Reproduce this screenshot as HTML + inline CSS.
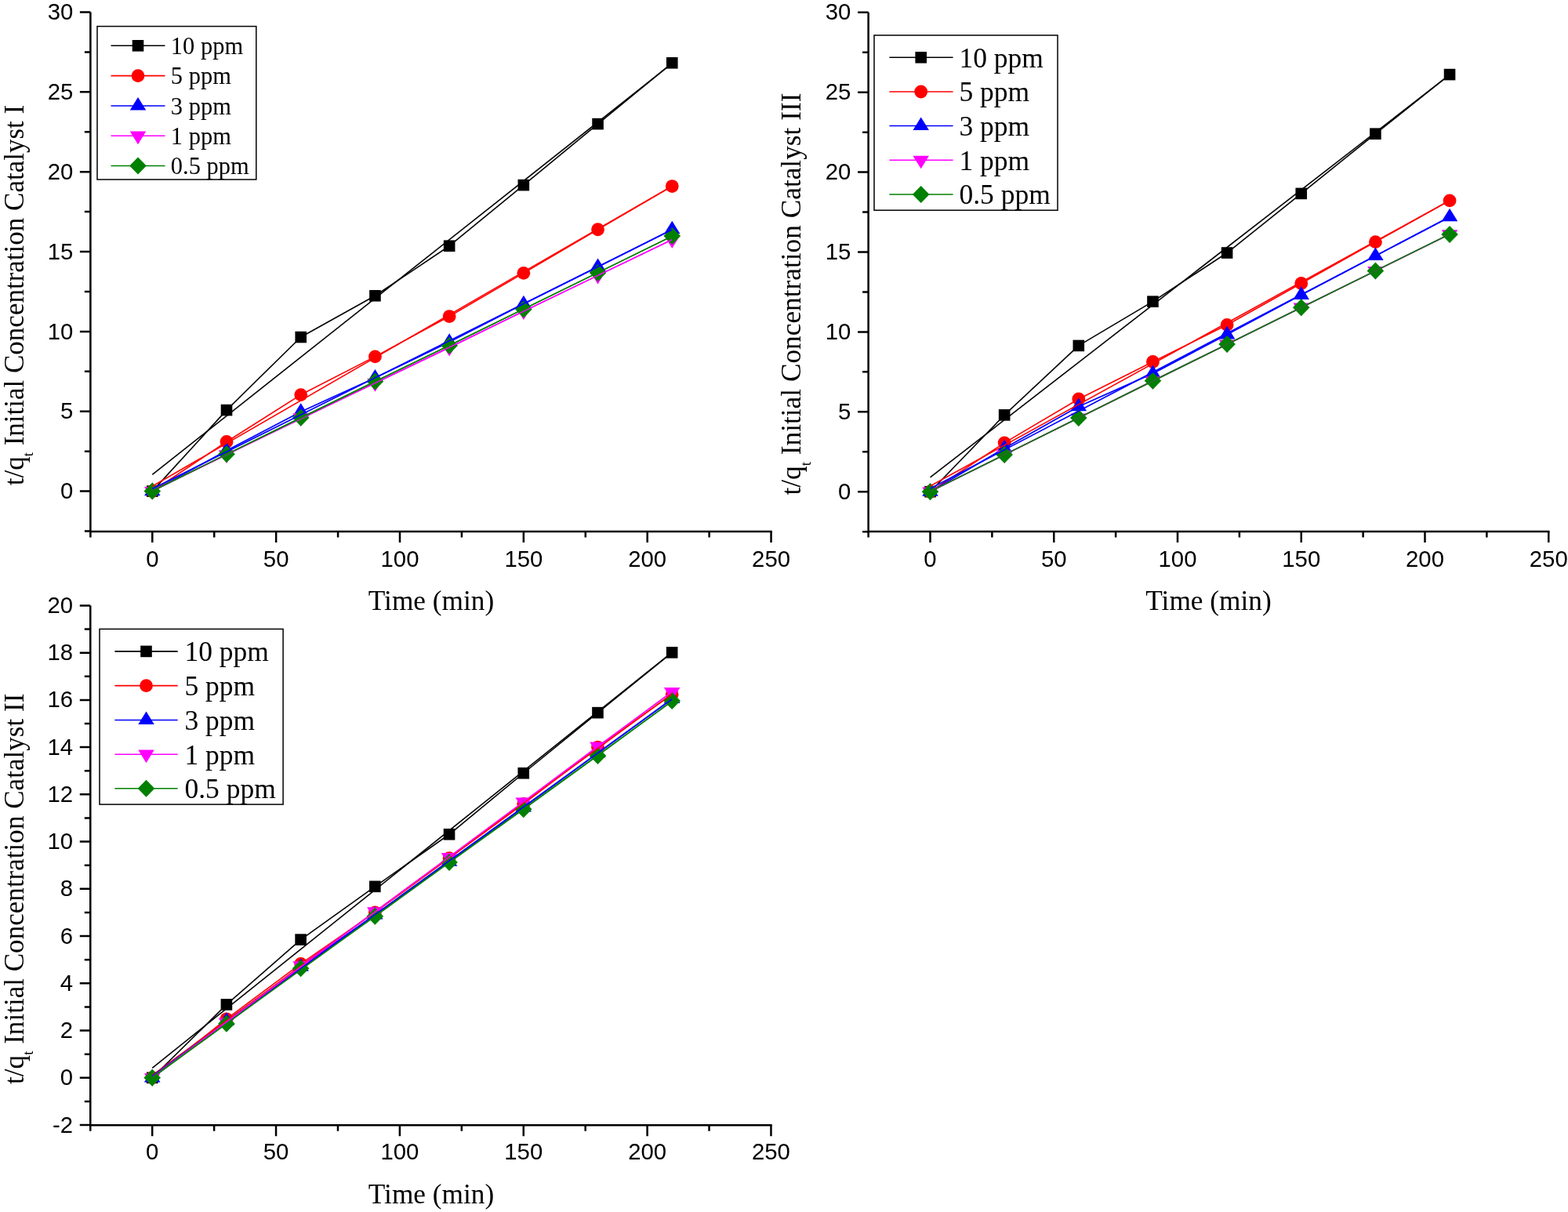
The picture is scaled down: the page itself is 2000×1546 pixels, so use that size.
<!DOCTYPE html>
<html><head><meta charset="utf-8"><title>t/qt Initial Concentration Catalyst plots</title>
<style>
html,body{margin:0;padding:0;background:#fff;}
body{width:2000px;height:1546px;overflow:hidden;}
svg{display:block;filter:blur(0.3px);}
.tk{font-family:'Liberation Sans', Arial, sans-serif;font-size:29.3px;fill:#000;}
.ti{font-family:'Liberation Serif', 'Times New Roman', serif;font-size:35.3px;fill:#000;}
.lg{font-family:'Liberation Serif', 'Times New Roman', serif;fill:#000;}
.sub{font-size:19px;}
</style></head><body>
<svg width="2000" height="1546" viewBox="0 0 2000 1546">
<rect width="2000" height="1546" fill="#fff"/>
<path d="M115.38,15.50 V678.10 M114.13,678.10 H984.80" stroke="#000" stroke-width="2.5" fill="none"/>
<path d="M107.88,677.52 H115.38 M101.88,626.60 H115.38 M107.88,575.68 H115.38 M101.88,524.75 H115.38 M107.88,473.83 H115.38 M101.88,422.90 H115.38 M107.88,371.98 H115.38 M101.88,321.05 H115.38 M107.88,270.12 H115.38 M101.88,219.20 H115.38 M107.88,168.27 H115.38 M101.88,117.35 H115.38 M107.88,66.42 H115.38 M101.88,15.50 H115.38 M115.38,678.10 V685.60 M194.30,678.10 V692.10 M273.23,678.10 V685.60 M352.15,678.10 V692.10 M431.08,678.10 V685.60 M510.00,678.10 V692.10 M588.92,678.10 V685.60 M667.85,678.10 V692.10 M746.78,678.10 V685.60 M825.70,678.10 V692.10 M904.62,678.10 V685.60 M983.55,678.10 V692.10" stroke="#000" stroke-width="2.5" fill="none"/>
<text transform="translate(93.30,636.21)" text-anchor="end" class="tk">0</text>
<text transform="translate(93.30,534.36)" text-anchor="end" class="tk">5</text>
<text transform="translate(93.30,432.51)" text-anchor="end" class="tk">10</text>
<text transform="translate(93.30,330.66)" text-anchor="end" class="tk">15</text>
<text transform="translate(93.30,228.81)" text-anchor="end" class="tk">20</text>
<text transform="translate(93.30,126.96)" text-anchor="end" class="tk">25</text>
<text transform="translate(93.30,25.11)" text-anchor="end" class="tk">30</text>
<text transform="translate(194.30,722.71)" text-anchor="middle" class="tk">0</text>
<text transform="translate(352.15,722.71)" text-anchor="middle" class="tk">50</text>
<text transform="translate(510.00,722.71)" text-anchor="middle" class="tk">100</text>
<text transform="translate(667.85,722.71)" text-anchor="middle" class="tk">150</text>
<text transform="translate(825.70,722.71)" text-anchor="middle" class="tk">200</text>
<text transform="translate(983.55,722.71)" text-anchor="middle" class="tk">250</text>
<polyline points="194.30,626.60 289.01,523.12 383.72,430.03 478.43,377.27 573.14,313.72 667.85,236.11 762.56,158.09 857.27,80.28" stroke="#000000" stroke-width="1.6" fill="none" stroke-linejoin="round"/>
<rect x="187.00" y="619.30" width="14.60" height="14.60" fill="#000000"/>
<rect x="281.71" y="515.82" width="14.60" height="14.60" fill="#000000"/>
<rect x="376.42" y="422.73" width="14.60" height="14.60" fill="#000000"/>
<rect x="471.13" y="369.97" width="14.60" height="14.60" fill="#000000"/>
<rect x="565.84" y="306.42" width="14.60" height="14.60" fill="#000000"/>
<rect x="660.55" y="228.81" width="14.60" height="14.60" fill="#000000"/>
<rect x="755.26" y="150.79" width="14.60" height="14.60" fill="#000000"/>
<rect x="849.97" y="72.98" width="14.60" height="14.60" fill="#000000"/>
<polyline points="194.30,626.60 289.01,563.45 383.72,503.57 478.43,454.88 573.14,403.55 667.85,348.35 762.56,292.74 857.27,237.53" stroke="#FF0000" stroke-width="1.6" fill="none" stroke-linejoin="round"/>
<circle cx="194.30" cy="626.60" r="8.4" fill="#FF0000"/>
<circle cx="289.01" cy="563.45" r="8.4" fill="#FF0000"/>
<circle cx="383.72" cy="503.57" r="8.4" fill="#FF0000"/>
<circle cx="478.43" cy="454.88" r="8.4" fill="#FF0000"/>
<circle cx="573.14" cy="403.55" r="8.4" fill="#FF0000"/>
<circle cx="667.85" cy="348.35" r="8.4" fill="#FF0000"/>
<circle cx="762.56" cy="292.74" r="8.4" fill="#FF0000"/>
<circle cx="857.27" cy="237.53" r="8.4" fill="#FF0000"/>
<polyline points="194.30,626.60 289.01,574.66 383.72,525.16 478.43,481.97 573.14,436.34 667.85,387.86 762.56,340.40 857.27,292.74" stroke="#0000FF" stroke-width="1.7" fill="none" stroke-linejoin="round"/>
<polygon points="194.30,615.60 204.55,632.20 184.05,632.20" fill="#0000FF"/>
<polygon points="289.01,563.66 299.26,580.26 278.76,580.26" fill="#0000FF"/>
<polygon points="383.72,514.16 393.97,530.76 373.47,530.76" fill="#0000FF"/>
<polygon points="478.43,470.97 488.68,487.57 468.18,487.57" fill="#0000FF"/>
<polygon points="573.14,425.34 583.39,441.94 562.89,441.94" fill="#0000FF"/>
<polygon points="667.85,376.86 678.10,393.46 657.60,393.46" fill="#0000FF"/>
<polygon points="762.56,329.40 772.81,346.00 752.31,346.00" fill="#0000FF"/>
<polygon points="857.27,281.74 867.52,298.34 847.02,298.34" fill="#0000FF"/>
<polyline points="194.30,626.60 289.01,579.95 383.72,532.90 478.43,488.70 573.14,443.47 667.85,397.03 762.56,351.40 857.27,305.77" stroke="#FF00FF" stroke-width="1.5" fill="none" stroke-linejoin="round"/>
<polygon points="194.30,637.60 204.55,621.00 184.05,621.00" fill="#FF00FF"/>
<polygon points="289.01,590.95 299.26,574.35 278.76,574.35" fill="#FF00FF"/>
<polygon points="383.72,543.90 393.97,527.30 373.47,527.30" fill="#FF00FF"/>
<polygon points="478.43,499.70 488.68,483.10 468.18,483.10" fill="#FF00FF"/>
<polygon points="573.14,454.47 583.39,437.87 562.89,437.87" fill="#FF00FF"/>
<polygon points="667.85,408.03 678.10,391.43 657.60,391.43" fill="#FF00FF"/>
<polygon points="762.56,362.40 772.81,345.80 752.31,345.80" fill="#FF00FF"/>
<polygon points="857.27,316.77 867.52,300.17 847.02,300.17" fill="#FF00FF"/>
<polyline points="194.30,626.60 289.01,579.34 383.72,532.69 478.43,486.45 573.14,440.83 667.85,394.38 762.56,347.94 857.27,301.09" stroke="#008000" stroke-width="1.5" fill="none" stroke-linejoin="round"/>
<polygon points="194.30,615.60 205.10,626.60 194.30,637.60 183.50,626.60" fill="#008000"/>
<polygon points="289.01,568.34 299.81,579.34 289.01,590.34 278.21,579.34" fill="#008000"/>
<polygon points="383.72,521.69 394.52,532.69 383.72,543.69 372.92,532.69" fill="#008000"/>
<polygon points="478.43,475.45 489.23,486.45 478.43,497.45 467.63,486.45" fill="#008000"/>
<polygon points="573.14,429.83 583.94,440.83 573.14,451.83 562.34,440.83" fill="#008000"/>
<polygon points="667.85,383.38 678.65,394.38 667.85,405.38 657.05,394.38" fill="#008000"/>
<polygon points="762.56,336.94 773.36,347.94 762.56,358.94 751.76,347.94" fill="#008000"/>
<polygon points="857.27,290.09 868.07,301.09 857.27,312.09 846.47,301.09" fill="#008000"/>
<line x1="194.30" y1="605.43" x2="857.27" y2="80.87" stroke="#000000" stroke-width="1.6"/>
<line x1="194.30" y1="620.25" x2="857.27" y2="237.41" stroke="#FF0000" stroke-width="1.6"/>
<line x1="194.30" y1="623.46" x2="857.27" y2="292.97" stroke="#0000FF" stroke-width="1.7"/>
<line x1="194.30" y1="625.79" x2="857.27" y2="305.67" stroke="#FF00FF" stroke-width="1.5"/>
<line x1="194.30" y1="626.01" x2="857.27" y2="301.33" stroke="#008000" stroke-width="1.5"/>
<rect x="124.00" y="33.60" width="202.80" height="195.40" fill="#fff" stroke="#000" stroke-width="1.5"/>
<line x1="141.50" y1="58.30" x2="210.50" y2="58.30" stroke="#000000" stroke-width="1.6"/>
<rect x="168.70" y="51.00" width="14.60" height="14.60" fill="#000000"/>
<text transform="translate(217.80,68.97) scale(1,1.02)" style="font-size:30.5px" class="lg">10 ppm</text>
<line x1="141.50" y1="96.60" x2="210.50" y2="96.60" stroke="#FF0000" stroke-width="1.6"/>
<circle cx="176.00" cy="96.60" r="8.4" fill="#FF0000"/>
<text transform="translate(217.80,107.27) scale(1,1.02)" style="font-size:30.5px" class="lg">5 ppm</text>
<line x1="141.50" y1="135.00" x2="210.50" y2="135.00" stroke="#0000FF" stroke-width="1.7"/>
<polygon points="176.00,124.00 186.25,140.60 165.75,140.60" fill="#0000FF"/>
<text transform="translate(217.80,145.67) scale(1,1.02)" style="font-size:30.5px" class="lg">3 ppm</text>
<line x1="141.50" y1="173.20" x2="210.50" y2="173.20" stroke="#FF00FF" stroke-width="1.5"/>
<polygon points="176.00,184.20 186.25,167.60 165.75,167.60" fill="#FF00FF"/>
<text transform="translate(217.80,183.87) scale(1,1.02)" style="font-size:30.5px" class="lg">1 ppm</text>
<line x1="141.50" y1="211.50" x2="210.50" y2="211.50" stroke="#008000" stroke-width="1.5"/>
<polygon points="176.00,200.50 186.80,211.50 176.00,222.50 165.20,211.50" fill="#008000"/>
<text transform="translate(217.80,222.17) scale(1,1.02)" style="font-size:30.5px" class="lg">0.5 ppm</text>
<text x="550" y="778.4" text-anchor="middle" class="ti">Time (min)</text>
<text transform="translate(29.70,619.30) rotate(-90)" class="ti" style="font-size:35.0px">t/q<tspan class="sub" dy="12.5">t</tspan><tspan dy="-12.5"> Initial Concentration Catalyst I</tspan></text>
<path d="M1107.62,15.80 V678.10 M1106.38,678.10 H1976.50" stroke="#000" stroke-width="2.5" fill="none"/>
<path d="M1100.12,678.15 H1107.62 M1094.12,627.20 H1107.62 M1100.12,576.25 H1107.62 M1094.12,525.30 H1107.62 M1100.12,474.35 H1107.62 M1094.12,423.40 H1107.62 M1100.12,372.45 H1107.62 M1094.12,321.50 H1107.62 M1100.12,270.55 H1107.62 M1094.12,219.60 H1107.62 M1100.12,168.65 H1107.62 M1094.12,117.70 H1107.62 M1100.12,66.75 H1107.62 M1094.12,15.80 H1107.62 M1107.62,678.10 V685.60 M1186.50,678.10 V692.10 M1265.38,678.10 V685.60 M1344.25,678.10 V692.10 M1423.12,678.10 V685.60 M1502.00,678.10 V692.10 M1580.88,678.10 V685.60 M1659.75,678.10 V692.10 M1738.62,678.10 V685.60 M1817.50,678.10 V692.10 M1896.38,678.10 V685.60 M1975.25,678.10 V692.10" stroke="#000" stroke-width="2.5" fill="none"/>
<text transform="translate(1085.30,636.81)" text-anchor="end" class="tk">0</text>
<text transform="translate(1085.30,534.91)" text-anchor="end" class="tk">5</text>
<text transform="translate(1085.30,433.01)" text-anchor="end" class="tk">10</text>
<text transform="translate(1085.30,331.11)" text-anchor="end" class="tk">15</text>
<text transform="translate(1085.30,229.21)" text-anchor="end" class="tk">20</text>
<text transform="translate(1085.30,127.31)" text-anchor="end" class="tk">25</text>
<text transform="translate(1085.30,25.41)" text-anchor="end" class="tk">30</text>
<text transform="translate(1186.50,722.71)" text-anchor="middle" class="tk">0</text>
<text transform="translate(1344.25,722.71)" text-anchor="middle" class="tk">50</text>
<text transform="translate(1502.00,722.71)" text-anchor="middle" class="tk">100</text>
<text transform="translate(1659.75,722.71)" text-anchor="middle" class="tk">150</text>
<text transform="translate(1817.50,722.71)" text-anchor="middle" class="tk">200</text>
<text transform="translate(1975.25,722.71)" text-anchor="middle" class="tk">250</text>
<polyline points="1186.50,627.20 1281.15,529.38 1375.80,440.93 1470.45,384.68 1565.10,322.52 1659.75,246.91 1754.40,170.69 1849.05,95.08" stroke="#000000" stroke-width="1.6" fill="none" stroke-linejoin="round"/>
<rect x="1179.20" y="619.90" width="14.60" height="14.60" fill="#000000"/>
<rect x="1273.85" y="522.08" width="14.60" height="14.60" fill="#000000"/>
<rect x="1368.50" y="433.63" width="14.60" height="14.60" fill="#000000"/>
<rect x="1463.15" y="377.38" width="14.60" height="14.60" fill="#000000"/>
<rect x="1557.80" y="315.22" width="14.60" height="14.60" fill="#000000"/>
<rect x="1652.45" y="239.61" width="14.60" height="14.60" fill="#000000"/>
<rect x="1747.10" y="163.39" width="14.60" height="14.60" fill="#000000"/>
<rect x="1841.75" y="87.78" width="14.60" height="14.60" fill="#000000"/>
<polyline points="1186.50,627.20 1281.15,564.84 1375.80,509.00 1470.45,461.51 1565.10,414.43 1659.75,361.44 1754.40,308.66 1849.05,255.88" stroke="#FF0000" stroke-width="1.6" fill="none" stroke-linejoin="round"/>
<circle cx="1186.50" cy="627.20" r="8.4" fill="#FF0000"/>
<circle cx="1281.15" cy="564.84" r="8.4" fill="#FF0000"/>
<circle cx="1375.80" cy="509.00" r="8.4" fill="#FF0000"/>
<circle cx="1470.45" cy="461.51" r="8.4" fill="#FF0000"/>
<circle cx="1565.10" cy="414.43" r="8.4" fill="#FF0000"/>
<circle cx="1659.75" cy="361.44" r="8.4" fill="#FF0000"/>
<circle cx="1754.40" cy="308.66" r="8.4" fill="#FF0000"/>
<circle cx="1849.05" cy="255.88" r="8.4" fill="#FF0000"/>
<polyline points="1186.50,627.20 1281.15,571.77 1375.80,518.57 1470.45,476.39 1565.10,426.86 1659.75,376.32 1754.40,326.39 1849.05,276.66" stroke="#0000FF" stroke-width="1.7" fill="none" stroke-linejoin="round"/>
<polygon points="1186.50,616.20 1196.75,632.80 1176.25,632.80" fill="#0000FF"/>
<polygon points="1281.15,560.77 1291.40,577.37 1270.90,577.37" fill="#0000FF"/>
<polygon points="1375.80,507.57 1386.05,524.17 1365.55,524.17" fill="#0000FF"/>
<polygon points="1470.45,465.39 1480.70,481.99 1460.20,481.99" fill="#0000FF"/>
<polygon points="1565.10,415.86 1575.35,432.46 1554.85,432.46" fill="#0000FF"/>
<polygon points="1659.75,365.32 1670.00,381.92 1649.50,381.92" fill="#0000FF"/>
<polygon points="1754.40,315.39 1764.65,331.99 1744.15,331.99" fill="#0000FF"/>
<polygon points="1849.05,265.66 1859.30,282.26 1838.80,282.26" fill="#0000FF"/>
<polyline points="1186.50,627.20 1281.15,580.12 1375.80,533.04 1470.45,485.76 1565.10,439.09 1659.75,392.22 1754.40,345.55 1849.05,298.88" stroke="#FF00FF" stroke-width="1.5" fill="none" stroke-linejoin="round"/>
<polygon points="1186.50,638.20 1196.75,621.60 1176.25,621.60" fill="#FF00FF"/>
<polygon points="1281.15,591.12 1291.40,574.52 1270.90,574.52" fill="#FF00FF"/>
<polygon points="1375.80,544.04 1386.05,527.44 1365.55,527.44" fill="#FF00FF"/>
<polygon points="1470.45,496.76 1480.70,480.16 1460.20,480.16" fill="#FF00FF"/>
<polygon points="1565.10,450.09 1575.35,433.49 1554.85,433.49" fill="#FF00FF"/>
<polygon points="1659.75,403.22 1670.00,386.62 1649.50,386.62" fill="#FF00FF"/>
<polygon points="1754.40,356.55 1764.65,339.95 1744.15,339.95" fill="#FF00FF"/>
<polygon points="1849.05,309.88 1859.30,293.28 1838.80,293.28" fill="#FF00FF"/>
<polyline points="1186.50,627.20 1281.15,580.12 1375.80,533.04 1470.45,485.76 1565.10,439.09 1659.75,392.22 1754.40,345.55 1849.05,298.88" stroke="#008000" stroke-width="1.5" fill="none" stroke-linejoin="round"/>
<polygon points="1186.50,616.20 1197.30,627.20 1186.50,638.20 1175.70,627.20" fill="#008000"/>
<polygon points="1281.15,569.12 1291.95,580.12 1281.15,591.12 1270.35,580.12" fill="#008000"/>
<polygon points="1375.80,522.04 1386.60,533.04 1375.80,544.04 1365.00,533.04" fill="#008000"/>
<polygon points="1470.45,474.76 1481.25,485.76 1470.45,496.76 1459.65,485.76" fill="#008000"/>
<polygon points="1565.10,428.09 1575.90,439.09 1565.10,450.09 1554.30,439.09" fill="#008000"/>
<polygon points="1659.75,381.22 1670.55,392.22 1659.75,403.22 1648.95,392.22" fill="#008000"/>
<polygon points="1754.40,334.55 1765.20,345.55 1754.40,356.55 1743.60,345.55" fill="#008000"/>
<polygon points="1849.05,287.88 1859.85,298.88 1849.05,309.88 1838.25,298.88" fill="#008000"/>
<line x1="1186.50" y1="608.94" x2="1849.05" y2="95.40" stroke="#000000" stroke-width="1.6"/>
<line x1="1186.50" y1="619.95" x2="1849.05" y2="255.79" stroke="#FF0000" stroke-width="1.6"/>
<line x1="1186.50" y1="623.23" x2="1849.05" y2="276.82" stroke="#0000FF" stroke-width="1.7"/>
<line x1="1186.50" y1="626.91" x2="1849.05" y2="298.56" stroke="#FF00FF" stroke-width="1.5"/>
<line x1="1186.50" y1="626.91" x2="1849.05" y2="298.56" stroke="#008000" stroke-width="1.5"/>
<rect x="1115.00" y="45.00" width="234.00" height="223.20" fill="#fff" stroke="#000" stroke-width="1.5"/>
<line x1="1134.40" y1="73.30" x2="1215.60" y2="73.30" stroke="#000000" stroke-width="1.6"/>
<rect x="1167.40" y="66.00" width="14.60" height="14.60" fill="#000000"/>
<text transform="translate(1223.50,85.67) scale(1,1.02)" style="font-size:35.5px" class="lg">10 ppm</text>
<line x1="1134.40" y1="117.00" x2="1215.60" y2="117.00" stroke="#FF0000" stroke-width="1.6"/>
<circle cx="1174.70" cy="117.00" r="8.4" fill="#FF0000"/>
<text transform="translate(1223.50,129.37) scale(1,1.02)" style="font-size:35.5px" class="lg">5 ppm</text>
<line x1="1134.40" y1="160.50" x2="1215.60" y2="160.50" stroke="#0000FF" stroke-width="1.7"/>
<polygon points="1174.70,149.50 1184.95,166.10 1164.45,166.10" fill="#0000FF"/>
<text transform="translate(1223.50,172.87) scale(1,1.02)" style="font-size:35.5px" class="lg">3 ppm</text>
<line x1="1134.40" y1="204.30" x2="1215.60" y2="204.30" stroke="#FF00FF" stroke-width="1.5"/>
<polygon points="1174.70,215.30 1184.95,198.70 1164.45,198.70" fill="#FF00FF"/>
<text transform="translate(1223.50,216.67) scale(1,1.02)" style="font-size:35.5px" class="lg">1 ppm</text>
<line x1="1134.40" y1="248.00" x2="1215.60" y2="248.00" stroke="#008000" stroke-width="1.5"/>
<polygon points="1174.70,237.00 1185.50,248.00 1174.70,259.00 1163.90,248.00" fill="#008000"/>
<text transform="translate(1223.50,260.37) scale(1,1.02)" style="font-size:35.5px" class="lg">0.5 ppm</text>
<text x="1541.5" y="778.4" text-anchor="middle" class="ti">Time (min)</text>
<text transform="translate(1021.30,631.60) rotate(-90)" class="ti" style="font-size:35.3px">t/q<tspan class="sub" dy="12.5">t</tspan><tspan dy="-12.5"> Initial Concentration Catalyst III</tspan></text>
<path d="M115.27,772.40 V1435.20 M114.02,1435.20 H984.70" stroke="#000" stroke-width="2.5" fill="none"/>
<path d="M101.77,1435.04 H115.27 M107.77,1404.92 H115.27 M101.77,1374.80 H115.27 M107.77,1344.68 H115.27 M101.77,1314.56 H115.27 M107.77,1284.44 H115.27 M101.77,1254.32 H115.27 M107.77,1224.20 H115.27 M101.77,1194.08 H115.27 M107.77,1163.96 H115.27 M101.77,1133.84 H115.27 M107.77,1103.72 H115.27 M101.77,1073.60 H115.27 M107.77,1043.48 H115.27 M101.77,1013.36 H115.27 M107.77,983.24 H115.27 M101.77,953.12 H115.27 M107.77,923.00 H115.27 M101.77,892.88 H115.27 M107.77,862.76 H115.27 M101.77,832.64 H115.27 M107.77,802.52 H115.27 M101.77,772.40 H115.27 M115.27,1435.20 V1442.70 M194.20,1435.20 V1449.20 M273.12,1435.20 V1442.70 M352.05,1435.20 V1449.20 M430.98,1435.20 V1442.70 M509.90,1435.20 V1449.20 M588.83,1435.20 V1442.70 M667.75,1435.20 V1449.20 M746.67,1435.20 V1442.70 M825.60,1435.20 V1449.20 M904.53,1435.20 V1442.70 M983.45,1435.20 V1449.20" stroke="#000" stroke-width="2.5" fill="none"/>
<text transform="translate(93.00,1444.65)" text-anchor="end" class="tk">-2</text>
<text transform="translate(93.00,1384.41)" text-anchor="end" class="tk">0</text>
<text transform="translate(93.00,1324.17)" text-anchor="end" class="tk">2</text>
<text transform="translate(93.00,1263.93)" text-anchor="end" class="tk">4</text>
<text transform="translate(93.00,1203.69)" text-anchor="end" class="tk">6</text>
<text transform="translate(93.00,1143.45)" text-anchor="end" class="tk">8</text>
<text transform="translate(93.00,1083.21)" text-anchor="end" class="tk">10</text>
<text transform="translate(93.00,1022.97)" text-anchor="end" class="tk">12</text>
<text transform="translate(93.00,962.73)" text-anchor="end" class="tk">14</text>
<text transform="translate(93.00,902.49)" text-anchor="end" class="tk">16</text>
<text transform="translate(93.00,842.25)" text-anchor="end" class="tk">18</text>
<text transform="translate(93.00,782.01)" text-anchor="end" class="tk">20</text>
<text transform="translate(194.20,1479.21)" text-anchor="middle" class="tk">0</text>
<text transform="translate(352.05,1479.21)" text-anchor="middle" class="tk">50</text>
<text transform="translate(509.90,1479.21)" text-anchor="middle" class="tk">100</text>
<text transform="translate(667.75,1479.21)" text-anchor="middle" class="tk">150</text>
<text transform="translate(825.60,1479.21)" text-anchor="middle" class="tk">200</text>
<text transform="translate(983.45,1479.21)" text-anchor="middle" class="tk">250</text>
<polyline points="194.20,1374.80 288.91,1281.43 383.62,1198.60 478.33,1130.83 573.04,1064.26 667.75,986.25 762.46,909.14 857.17,832.34" stroke="#000000" stroke-width="1.6" fill="none" stroke-linejoin="round"/>
<rect x="186.90" y="1367.50" width="14.60" height="14.60" fill="#000000"/>
<rect x="281.61" y="1274.13" width="14.60" height="14.60" fill="#000000"/>
<rect x="376.32" y="1191.30" width="14.60" height="14.60" fill="#000000"/>
<rect x="471.03" y="1123.53" width="14.60" height="14.60" fill="#000000"/>
<rect x="565.74" y="1056.96" width="14.60" height="14.60" fill="#000000"/>
<rect x="660.45" y="978.95" width="14.60" height="14.60" fill="#000000"/>
<rect x="755.16" y="901.84" width="14.60" height="14.60" fill="#000000"/>
<rect x="849.87" y="825.04" width="14.60" height="14.60" fill="#000000"/>
<polyline points="194.20,1374.80 288.91,1299.80 383.62,1229.32 478.33,1163.96 573.04,1094.68 667.75,1025.41 762.46,953.12 857.17,885.65" stroke="#FF0000" stroke-width="1.6" fill="none" stroke-linejoin="round"/>
<circle cx="194.20" cy="1374.80" r="8.4" fill="#FF0000"/>
<circle cx="288.91" cy="1299.80" r="8.4" fill="#FF0000"/>
<circle cx="383.62" cy="1229.32" r="8.4" fill="#FF0000"/>
<circle cx="478.33" cy="1163.96" r="8.4" fill="#FF0000"/>
<circle cx="573.04" cy="1094.68" r="8.4" fill="#FF0000"/>
<circle cx="667.75" cy="1025.41" r="8.4" fill="#FF0000"/>
<circle cx="762.46" cy="953.12" r="8.4" fill="#FF0000"/>
<circle cx="857.17" cy="885.65" r="8.4" fill="#FF0000"/>
<polyline points="194.20,1374.80 288.91,1302.21 383.62,1233.24 478.33,1166.97 573.04,1099.20 667.75,1029.93 762.46,960.65 857.17,891.37" stroke="#0000FF" stroke-width="1.7" fill="none" stroke-linejoin="round"/>
<polygon points="194.20,1363.80 204.45,1380.40 183.95,1380.40" fill="#0000FF"/>
<polygon points="288.91,1291.21 299.16,1307.81 278.66,1307.81" fill="#0000FF"/>
<polygon points="383.62,1222.24 393.87,1238.84 373.37,1238.84" fill="#0000FF"/>
<polygon points="478.33,1155.97 488.58,1172.57 468.08,1172.57" fill="#0000FF"/>
<polygon points="573.04,1088.20 583.29,1104.80 562.79,1104.80" fill="#0000FF"/>
<polygon points="667.75,1018.93 678.00,1035.53 657.50,1035.53" fill="#0000FF"/>
<polygon points="762.46,949.65 772.71,966.25 752.21,966.25" fill="#0000FF"/>
<polygon points="857.17,880.37 867.42,896.97 846.92,896.97" fill="#0000FF"/>
<polyline points="194.20,1374.80 288.91,1304.02 383.62,1231.73 478.33,1162.76 573.04,1093.48 667.75,1023.00 762.46,952.22 857.17,882.64" stroke="#FF00FF" stroke-width="1.5" fill="none" stroke-linejoin="round"/>
<polygon points="194.20,1385.80 204.45,1369.20 183.95,1369.20" fill="#FF00FF"/>
<polygon points="288.91,1315.02 299.16,1298.42 278.66,1298.42" fill="#FF00FF"/>
<polygon points="383.62,1242.73 393.87,1226.13 373.37,1226.13" fill="#FF00FF"/>
<polygon points="478.33,1173.76 488.58,1157.16 468.08,1157.16" fill="#FF00FF"/>
<polygon points="573.04,1104.48 583.29,1087.88 562.79,1087.88" fill="#FF00FF"/>
<polygon points="667.75,1034.00 678.00,1017.40 657.50,1017.40" fill="#FF00FF"/>
<polygon points="762.46,963.22 772.71,946.62 752.21,946.62" fill="#FF00FF"/>
<polygon points="857.17,893.64 867.42,877.04 846.92,877.04" fill="#FF00FF"/>
<polyline points="194.20,1374.80 288.91,1305.83 383.62,1235.34 478.33,1168.78 573.04,1100.11 667.75,1032.34 762.46,963.96 857.17,894.08" stroke="#008000" stroke-width="1.5" fill="none" stroke-linejoin="round"/>
<polygon points="194.20,1363.80 205.00,1374.80 194.20,1385.80 183.40,1374.80" fill="#008000"/>
<polygon points="288.91,1294.83 299.71,1305.83 288.91,1316.83 278.11,1305.83" fill="#008000"/>
<polygon points="383.62,1224.34 394.42,1235.34 383.62,1246.34 372.82,1235.34" fill="#008000"/>
<polygon points="478.33,1157.78 489.13,1168.78 478.33,1179.78 467.53,1168.78" fill="#008000"/>
<polygon points="573.04,1089.11 583.84,1100.11 573.04,1111.11 562.24,1100.11" fill="#008000"/>
<polygon points="667.75,1021.34 678.55,1032.34 667.75,1043.34 656.95,1032.34" fill="#008000"/>
<polygon points="762.46,952.96 773.26,963.96 762.46,974.96 751.66,963.96" fill="#008000"/>
<polygon points="857.17,883.08 867.97,894.08 857.17,905.08 846.37,894.08" fill="#008000"/>
<line x1="194.20" y1="1362.30" x2="857.17" y2="832.11" stroke="#000000" stroke-width="1.6"/>
<line x1="194.20" y1="1371.61" x2="857.17" y2="885.07" stroke="#FF0000" stroke-width="1.6"/>
<line x1="194.20" y1="1372.69" x2="857.17" y2="891.90" stroke="#0000FF" stroke-width="1.7"/>
<line x1="194.20" y1="1373.90" x2="857.17" y2="882.26" stroke="#FF00FF" stroke-width="1.5"/>
<line x1="194.20" y1="1374.07" x2="857.17" y2="894.74" stroke="#008000" stroke-width="1.5"/>
<rect x="127.00" y="802.40" width="234.10" height="223.70" fill="#fff" stroke="#000" stroke-width="1.5"/>
<line x1="146.40" y1="830.90" x2="226.70" y2="830.90" stroke="#000000" stroke-width="1.6"/>
<rect x="179.20" y="823.60" width="14.60" height="14.60" fill="#000000"/>
<text transform="translate(235.50,843.27) scale(1,1.02)" style="font-size:35.5px" class="lg">10 ppm</text>
<line x1="146.40" y1="874.60" x2="226.70" y2="874.60" stroke="#FF0000" stroke-width="1.6"/>
<circle cx="186.50" cy="874.60" r="8.4" fill="#FF0000"/>
<text transform="translate(235.50,886.97) scale(1,1.02)" style="font-size:35.5px" class="lg">5 ppm</text>
<line x1="146.40" y1="918.50" x2="226.70" y2="918.50" stroke="#0000FF" stroke-width="1.7"/>
<polygon points="186.50,907.50 196.75,924.10 176.25,924.10" fill="#0000FF"/>
<text transform="translate(235.50,930.87) scale(1,1.02)" style="font-size:35.5px" class="lg">3 ppm</text>
<line x1="146.40" y1="962.20" x2="226.70" y2="962.20" stroke="#FF00FF" stroke-width="1.5"/>
<polygon points="186.50,973.20 196.75,956.60 176.25,956.60" fill="#FF00FF"/>
<text transform="translate(235.50,974.57) scale(1,1.02)" style="font-size:35.5px" class="lg">1 ppm</text>
<line x1="146.40" y1="1005.80" x2="226.70" y2="1005.80" stroke="#008000" stroke-width="1.5"/>
<polygon points="186.50,994.80 197.30,1005.80 186.50,1016.80 175.70,1005.80" fill="#008000"/>
<text transform="translate(235.50,1018.17) scale(1,1.02)" style="font-size:35.5px" class="lg">0.5 ppm</text>
<text x="550" y="1535.3" text-anchor="middle" class="ti">Time (min)</text>
<text transform="translate(29.70,1382.90) rotate(-90)" class="ti" style="font-size:35.1px">t/q<tspan class="sub" dy="12.5">t</tspan><tspan dy="-12.5"> Initial Concentration Catalyst II</tspan></text>
</svg>
</body></html>
